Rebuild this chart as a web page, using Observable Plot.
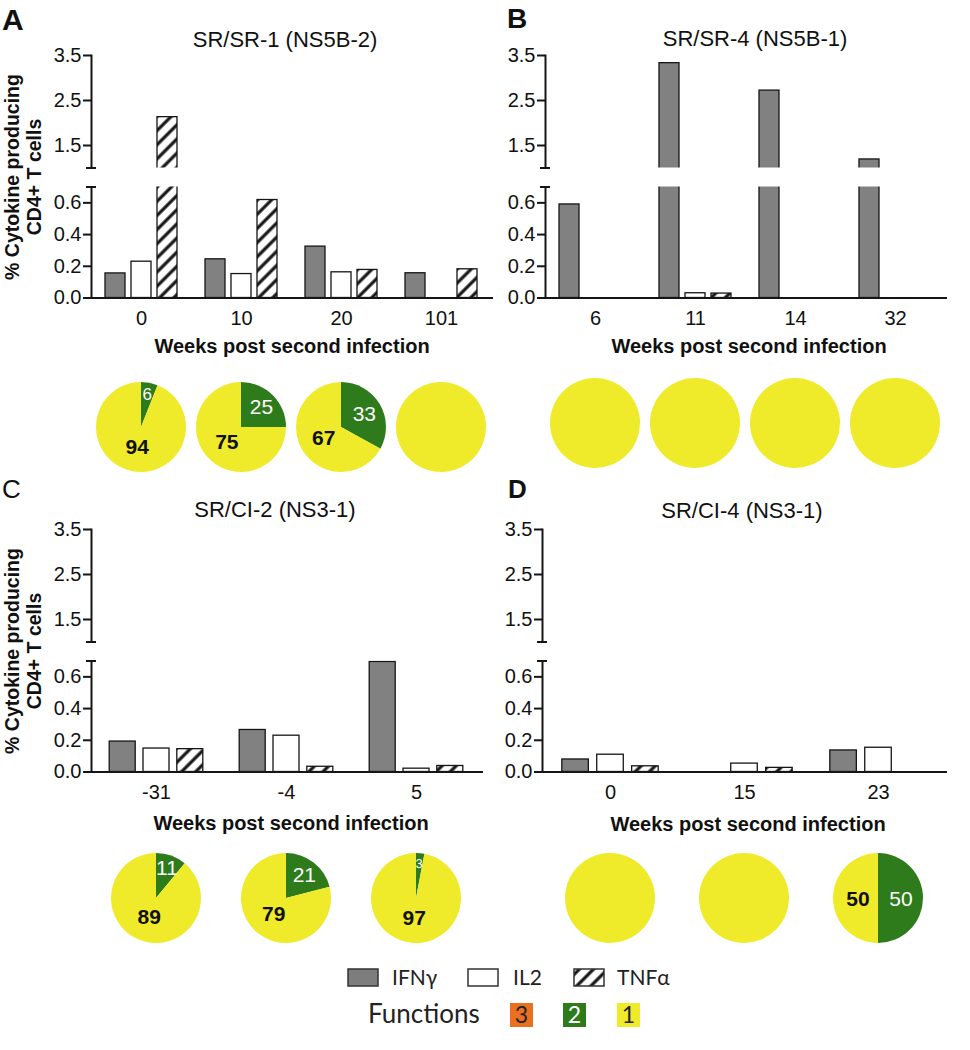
<!DOCTYPE html>
<html><head><meta charset="utf-8">
<script src="https://cdn.jsdelivr.net/npm/d3@7"></script>
<script src="https://cdn.jsdelivr.net/npm/@observablehq/plot@0.6"></script>
<style>
html,body{margin:0;padding:0;background:#fff;}
#root{position:relative;width:970px;height:1050px;overflow:hidden;font-family:"Liberation Sans",Arial,sans-serif;}
#root svg.overlay{position:absolute;left:0;top:0;}
.pl{position:absolute;}
.pl svg{max-width:none !important;}
</style></head><body><div id="root"></div>
<script>
// ---------- data ----------
const cytokines = ["IFNγ", "IL2", "TNFα"];

const weeksA = ["0", "10", "20", "101"];
const ifngA  = [0.155, 0.244, 0.324, 0.156];
const il2A   = [0.229, 0.151, 0.162, 0];
const tnfaA  = [2.13, 0.618, 0.177, 0.181];
const twoFnA = [6, 25, 33, 0];
const oneFnA = [94, 75, 67, 100];

const weeksB = ["6", "11", "14", "32"];
const ifngB  = [0.59, 3.33, 2.72, 1.19];
const il2B   = [0, 0.03, 0, 0];
const tnfaB  = [0, 0.028, 0, 0];
const twoFnB = [0, 0, 0, 0];
const oneFnB = [100, 100, 100, 100];

const weeksC = ["-31", "-4", "5"];
const ifngC  = [0.192, 0.265, 0.694];
const il2C   = [0.148, 0.229, 0.021];
const tnfaC  = [0.144, 0.033, 0.038];
const twoFnC = [11, 21, 3];
const oneFnC = [89, 79, 97];

const weeksD = ["0", "15", "23"];
const ifngD  = [0.079, 0, 0.136];
const il2D   = [0.109, 0.053, 0.153];
const tnfaD  = [0.036, 0.026, 0];
const twoFnD = [0, 0, 50];
const oneFnD = [100, 100, 50];

const yTicks = [0, 0.2, 0.4, 0.6, 1.5, 2.5, 3.5];
const yBreak = [0.7, 1.0];
const yDomain = [0, 0.7, 1.0, 3.5];

const titles = ["SR/SR-1 (NS5B-2)", "SR/SR-4 (NS5B-1)", "SR/CI-2 (NS3-1)", "SR/CI-4 (NS3-1)"];
const letters = ["A", "B", "C", "D"];
const yLabel = ["% Cytokine producing", "CD4+ T cells"];
const xLabel = "Weeks post second infection";
const functionLevels = ["3", "2", "1"];

// ---------- styles ----------
const GRAY = "#818181", INK = "#151515";
const YELLOW = "#efeb2a", GREEN = "#2e7b1c", ORANGE = "#e8701e";
const fnColors = {"3": ORANGE, "2": GREEN, "1": YELLOW};
const FONT = '"Liberation Sans", Arial, sans-serif';
const HP = 10; // hatch period

const root = document.getElementById("root");

function addHatch(sel, id) {
  const p = sel.append("pattern").attr("id", id).attr("patternUnits", "userSpaceOnUse")
    .attr("width", HP).attr("height", HP).attr("patternTransform", "rotate(45)");
  p.append("rect").attr("width", HP).attr("height", HP).attr("fill", "#fff");
  p.append("line").attr("x1", HP / 2).attr("x2", HP / 2).attr("y1", -1).attr("y2", HP + 1)
    .attr("stroke", INK).attr("stroke-width", 3.2);
}
function hatchDefs(id) {
  return () => {
    const defs = d3.create("svg:defs");
    addHatch(defs, id);
    return defs.node();
  };
}

function panel(cfg) {
  const {id, weeks, ifng, il2, tnfa, two, one, left, top, width, height, mL, mR, mT, baseY, pieY} = cfg;
  const series = [ifng, il2, tnfa];
  const rows = [];
  weeks.forEach((w, i) => cytokines.forEach((c, k) => rows.push({week: w, cytokine: c, value: series[k][i]})));
  const pies = weeks.map((w, i) => ({week: w, two: two[i], one: one[i]}));

  const frameW = width - mL - mR;
  const B = frameW / weeks.length;
  const barW = 0.2 * B, step = 0.26 * B, ins = (B - barW) / 2;
  const lowerH = 111, upperH = 112.5;
  const yRange = [baseY, baseY - lowerH, mT + upperH, mT];
  const hatchId = "hatch-" + id;
  const fills = {"IFNγ": GRAY, "IL2": "#ffffff", "TNFα": `url(#${hatchId})`};

  const bars = cytokines.map((c, k) => Plot.barY(
    rows.filter(d => d.cytokine === c && d.value > 0),
    {x: "week", y: "value", fill: fills[c], stroke: INK, strokeWidth: 1.3,
     insetLeft: ins, insetRight: ins, dx: (k - 1) * step}));

  const R = 45;
  const pieMark = (index, scales) => {
    const g = d3.create("svg:g");
    let bw = scales.x && scales.x.bandwidth;
    if (typeof bw === "function") bw = bw.call(scales.x);
    if (!(bw > 0)) bw = B;
    const arc = d3.arc().innerRadius(0).outerRadius(R);
    const gen = d3.pie().sort(null).value(d => d.v);
    pies.forEach(p => {
      const cx = scales.x(p.week) + bw / 2;
      const pg = g.append("g").attr("transform", `translate(${cx},${pieY})`);
      const arcs = gen([{v: p.two, color: GREEN, fn: 2}, {v: p.one, color: YELLOW, fn: 1}]);
      pg.selectAll("path").data(arcs.filter(a => a.data.v > 0)).join("path")
        .attr("d", arc).attr("fill", a => a.data.color);
      if (p.two > 0 && p.one > 0) {
        arcs.forEach(a => {
          const frac = a.data.v / 100;
          const mid = (a.startAngle + a.endAngle) / 2;
          const r = a.data.fn === 2 ? 35 - 24 * frac : 20;
          const fs = a.data.fn === 2 ? (frac < 0.05 ? 13 : frac < 0.1 ? 17 : 21) : 21;
          pg.append("text").attr("x", r * Math.sin(mid)).attr("y", -r * Math.cos(mid))
            .attr("text-anchor", "middle").attr("dominant-baseline", "central")
            .attr("font-size", fs).attr("font-family", FONT)
            .attr("font-weight", a.data.fn === 2 ? "normal" : "bold")
            .attr("fill", a.data.fn === 2 ? "#ffffff" : "#111")
            .text(a.data.v);
        });
      }
    });
    return g.node();
  };

  const plot = Plot.plot({
    width, height,
    marginLeft: mL, marginRight: mR, marginTop: mT, marginBottom: height - baseY,
    x: {type: "band", domain: weeks, padding: 0},
    y: {type: "linear", domain: yDomain, range: yRange},
    style: {background: "transparent", overflow: "visible", fontFamily: FONT, fontSize: "20px", color: "#111"},
    marks: [
      hatchDefs(hatchId),
      ...bars,
      Plot.frame({anchor: "left", stroke: INK, strokeWidth: 2}),
      Plot.rect([0], {y1: yBreak[0], y2: yBreak[1], fill: "white", insetLeft: -6, insetRight: -6}),
      Plot.ruleY(yBreak, {stroke: INK, strokeWidth: 2, insetLeft: -5, insetRight: frameW - 5}),
      Plot.axisY({ticks: yTicks, tickFormat: d => d.toFixed(1), tickSize: 8, tickPadding: 2,
                  stroke: INK, strokeWidth: 2, label: null, fontSize: 20}),
      Plot.axisX({tickSize: 0, tickPadding: 13, label: null, fontSize: 20}),
      Plot.ruleY([0], {stroke: INK, strokeWidth: 2, insetLeft: -7, insetRight: -2}),
      pieMark
    ]
  });
  const div = document.createElement("div");
  div.className = "pl";
  div.style.left = left + "px";
  div.style.top = top + "px";
  div.style.width = width + "px";
  div.appendChild(plot);
  root.appendChild(div);
}

panel({id: "A", weeks: weeksA, ifng: ifngA, il2: il2A, tnfa: tnfaA, two: twoFnA, one: oneFnA,
       left: 0, top: 0, width: 495, height: 480, mL: 91, mR: 4, mT: 55, baseY: 297.5, pieY: 427});
panel({id: "B", weeks: weeksB, ifng: ifngB, il2: il2B, tnfa: tnfaB, two: twoFnB, one: oneFnB,
       left: 495, top: 0, width: 460, height: 480, mL: 50, mR: 10, mT: 55, baseY: 297.5, pieY: 423});
panel({id: "C", weeks: weeksC, ifng: ifngC, il2: il2C, tnfa: tnfaC, two: twoFnC, one: oneFnC,
       left: 0, top: 474, width: 495, height: 480, mL: 91, mR: 14, mT: 55, baseY: 297.5, pieY: 424});
panel({id: "D", weeks: weeksD, ifng: ifngD, il2: il2D, tnfa: tnfaD, two: twoFnD, one: oneFnD,
       left: 495, top: 474, width: 460, height: 480, mL: 47, mR: 10, mT: 55, baseY: 297.5, pieY: 424});

// ---------- overlay texts and legend ----------
const ov = d3.select(root).append("svg").attr("class", "overlay")
  .attr("width", 970).attr("height", 1050).style("pointer-events", "none")
  .attr("font-family", FONT).attr("fill", "#111");

const letterPos = [[2, 30, 30, "bold"], [507, 28, 28, "bold"], [2, 498, 26, "normal"], [508, 498, 26, "bold"]];
letters.forEach((t, i) => ov.append("text").attr("x", letterPos[i][0]).attr("y", letterPos[i][1])
  .attr("font-size", letterPos[i][2]).attr("font-weight", letterPos[i][3]).text(t));

const titlePos = [[285, 47], [755, 46], [275, 517], [742, 518]];
titles.forEach((t, i) => ov.append("text").attr("x", titlePos[i][0]).attr("y", titlePos[i][1])
  .attr("text-anchor", "middle").attr("font-size", 22).text(t));

[177, 651].forEach(cy => {
  [19, 41].forEach((bx, j) => ov.append("text")
    .attr("transform", `translate(${bx},${cy}) rotate(-90)`)
    .attr("text-anchor", "middle").attr("font-size", 19.5).attr("font-weight", "bold").text(yLabel[j]));
});

[[292, 353], [749, 353], [291, 830], [748, 831]].forEach(([x, y]) => ov.append("text")
  .attr("x", x).attr("y", y).attr("text-anchor", "middle").attr("font-size", 20)
  .attr("font-weight", "bold").text(xLabel));

// legend
addHatch(ov.append("defs"), "hatch-leg");
const LFONT = 'Lato, "Open Sans", sans-serif';
const legFill = ["#7d7d7d", "#ffffff", "url(#hatch-leg)"];
const legX = [[348, 392], [468, 513], [574, 617]];
cytokines.forEach((c, i) => {
  ov.append("rect").attr("x", legX[i][0]).attr("y", 969).attr("width", 30).attr("height", 17)
    .attr("fill", legFill[i]).attr("stroke", "#333").attr("stroke-width", 1.5);
  ov.append("text").attr("x", legX[i][1]).attr("y", 985).attr("font-family", LFONT)
    .attr("font-size", 21).attr("fill", "#222").text(c);
});
ov.append("text").attr("x", 368).attr("y", 1023).attr("font-family", LFONT)
  .attr("font-size", 26).attr("fill", "#222").text("Functions");
const fnX = [510, 563, 617];
functionLevels.forEach((f, i) => {
  ov.append("rect").attr("x", fnX[i]).attr("y", 1003).attr("width", 23).attr("height", 24).attr("fill", fnColors[f]);
  ov.append("text").attr("x", fnX[i] + 11.5).attr("y", 1023).attr("text-anchor", "middle")
    .attr("font-family", LFONT).attr("font-size", 23).attr("fill", f === "2" ? "#fff" : "#222").text(f);
});
</script>
</body></html>
